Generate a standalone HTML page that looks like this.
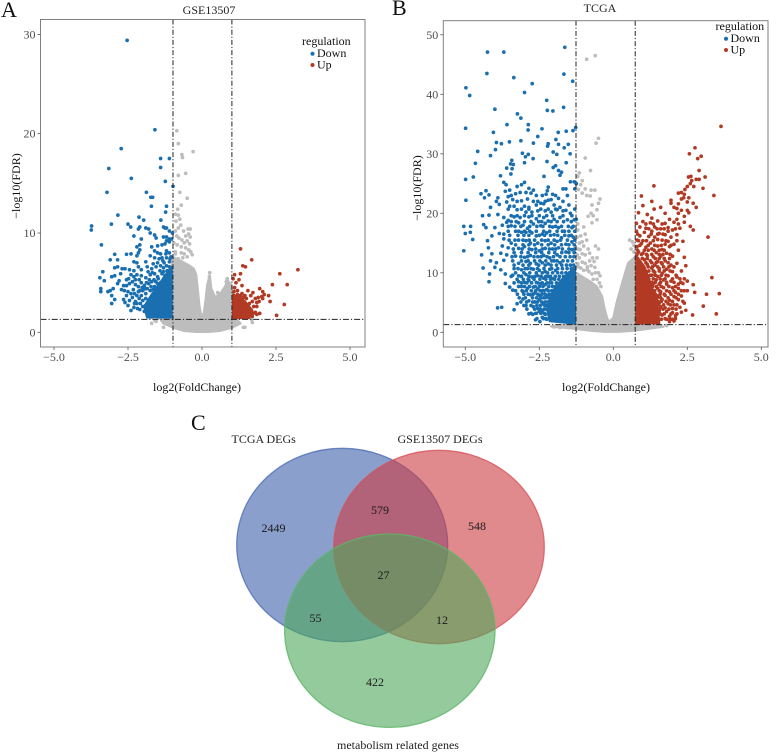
<!DOCTYPE html>
<html lang="en">
<head>
<meta charset="utf-8">
<title>Volcano plots and Venn diagram</title>
<style>
html,body{margin:0;padding:0;background:#fff;}
svg{display:block;font-family:"Liberation Serif",serif;filter:blur(0.3px);}
</style>
</head>
<body>
<svg id="figure" width="777" height="752" viewBox="0 0 777 752" xmlns="http://www.w3.org/2000/svg">
<g id="panel-a"></g>
<g id="panel-b"></g>
<g font-size="22" fill="#111">
<text x="1" y="17">A</text>
<text x="392" y="15">B</text>
<text x="191" y="430">C</text>
</g>
<g>
<ellipse cx="342.2" cy="545" rx="105.5" ry="96.7" fill="#3c5faa" fill-opacity="0.6" stroke="#4a69b4" stroke-opacity="0.75" stroke-width="1.3"/>
<ellipse cx="439" cy="547" rx="105.3" ry="96.7" fill="#cd3c41" fill-opacity="0.6" stroke="#d5505a" stroke-opacity="0.75" stroke-width="1.3"/>
<ellipse cx="389.8" cy="630.7" rx="105.2" ry="96.7" fill="#4fa85a" fill-opacity="0.6" stroke="#5cb568" stroke-opacity="0.8" stroke-width="1.3"/>
<g font-size="12" fill="#222">
<text x="231.5" y="443">TCGA DEGs</text>
<text x="397.5" y="443">GSE13507 DEGs</text>
<text x="337" y="749">metabolism related genes</text>
</g>
<g font-size="12" fill="#1a1a1a" text-anchor="middle">
<text x="273.5" y="532">2449</text>
<text x="380" y="514">579</text>
<text x="477" y="530">548</text>
<text x="383.5" y="579">27</text>
<text x="315.5" y="622">55</text>
<text x="442" y="624">12</text>
<text x="375" y="686">422</text>
</g>
</g>
</svg>
<script>
const xTickLabels = ["\u22125.0","\u22122.5","0.0","2.5","5.0"];
const xTickValues = [-5,-2.5,0,2.5,5];
const yTicksA = [0,10,20,30];
const yTicksB = [0,10,20,30,40,50];
const thresholdsA = {left:-0.98,right:1.01,fdr:1.3};
const thresholdsB = {left:-1.26,right:0.74,fdr:1.3};

/* Dense clouds, read as outlines of the solid masses */
const grayMassA = [[-1.4,1.3],[-1.1,1.4],[-1,7.6],[-0.85,7.4],[-0.6,7],[-0.42,6.7],[-0.28,6.4],[-0.2,5.8],[-0.15,4.4],[-0.09,2.7],[-0.02,1.5],[0.06,1.9],[0.12,3.2],[0.18,4.8],[0.26,5.7],[0.31,4.4],[0.45,3.5],[0.62,3.9],[0.78,4.6],[0.87,5.2],[1,4.7],[1.05,1.6],[1.3,0.9],[1.0,0.45],[0.6,0.15],[0.2,0.05],[-0.2,0.05],[-0.6,0.15],[-1,0.5],[-1.3,0.9]];
const downMassA = [[-1.85,1.5],[-1.95,2.6],[-1.7,3.8],[-1.45,4.8],[-1.25,5.7],[-1.03,6.6],[-1.03,1.5]];
const upMassA = [[1.05,1.45],[1.6,1.45],[1.7,2.2],[1.45,3.1],[1.25,3.5],[1.05,3.8]];
const grayMassB = [[-2.1,1.0],[-1.26,1.3],[-1.26,10],[-1,9.2],[-0.8,8.6],[-0.56,7.7],[-0.38,6],[-0.3,4],[-0.2,2.2],[-0.13,1.8],[0,2.4],[0.11,4.9],[0.33,8.8],[0.5,11.6],[0.76,12.8],[0.76,1.3],[1.7,0.95],[1.1,0.55],[0.7,0.3],[0.2,0.1],[-0.3,0.1],[-0.8,0.3],[-1.3,0.6]];
const downMassB = [[-2.15,1.9],[-2.22,3.5],[-2.15,5.5],[-2,7.2],[-1.7,9],[-1.45,10.2],[-1.3,11],[-1.3,1.5]];
const upMassB = [[0.78,1.5],[1.55,1.5],[1.5,4],[1.38,6.5],[1.2,9],[1.05,11],[0.78,12.8]];

/* Individually visible points: [log2FC, -log10 FDR] */
const grayPointsA = [[-0.85,20.3],[-0.8,19],[-0.68,17.9],[-0.3,18.2],[-0.66,17.6],[-0.8,15.8],[-0.55,16],[-0.75,14.1],[-0.5,13.5],[-0.7,12.8],[-0.82,12.4],[-0.9,11.9],[-0.88,11.2],[-0.8,11.8],[-0.75,11.4],[-0.72,10.8],[-0.8,10.5],[-0.9,10.2],[-0.62,10.2],[-0.47,10.4],[-0.4,10.4],[-0.45,9.9],[-0.55,9.7],[-0.4,9.6],[-0.78,9.5],[-0.68,9.3],[-0.5,9.2],[-0.42,8.9],[-0.84,8.8],[-0.7,8.6],[-0.55,8.5],[-0.45,8.3],[-0.38,8.1],[-0.9,8.1],[-0.7,8],[-0.6,7.9],[-0.33,7.8],[-0.8,7.4],[0.26,6],[0.25,5.6],[0.85,5.4],[0.82,5.1],[-1.35,1.2],[-1.55,1.1],[-1.7,0.9],[-1.6,1.25],[1.4,0.5],[1.45,0.5],[1.2,1],[1.7,1],[-1.3,0.5],[1.68,1.3],[0.53,4],[0.68,4],[-0.95,9],[-0.85,9.7],[-0.6,9],[-0.9,7.9],[-0.5,7.6],[-0.65,7.5]];
const downPointsA = [[-2.53,29.4],[-1.59,20.4],[-2.73,18.5],[-3.15,16.5],[-2.39,15.5],[-3.21,14.1],[-1.88,14.1],[-1.73,13.6],[-1.67,13.6],[-1.4,17.5],[-1.1,17.5],[-1.4,16.6],[-1.24,15.2],[-0.98,14.7],[-1.71,12.7],[-1.2,12.7],[-1.23,12.1],[-2.84,11.8],[-3.73,10.7],[-3.74,10.3],[-3.06,10.9],[-2.5,10.9],[-2.41,10.6],[-2.13,11.6],[-1.97,11.3],[-1.39,11.3],[-1.3,10.6],[-1.25,10.5],[-1.2,10.5],[-1.1,10.2],[-1.0,10],[-1.9,10.5],[-1.8,10.4],[-2.15,10.4],[-2.1,10.6],[-1.75,10],[-1.6,9.8],[-1.55,9.5],[-1.3,9.6],[-1.2,9.6],[-1.1,9.4],[-1.03,9.4],[-2.3,9.7],[-2.05,9.4],[-1.2,9.2],[-1.1,9.1],[-1.25,8.9],[-1.35,8.8],[-1.5,8.7],[-1.7,8.6],[-2.1,8.8],[-2.2,8.6],[-3.4,8.8],[-2.1,8.3],[-2.15,8],[-1.6,8.2],[-1.5,8],[-1.4,7.9],[-1.2,8.2],[-1.1,8],[-2.4,7.9],[-2.55,7.85],[-2.95,7.85],[-2.2,7.7],[-1.75,7.7],[-1.6,7.5],[-1.35,7.5],[-1.2,7.5],[-1.05,7.6],[-3.1,7.3],[-2.85,7.3],[-2.3,7.1],[-2.2,7],[-1.9,7.1],[-1.5,7],[-1.1,7.1],[-3.35,6.1],[-2.95,6.5],[-2.85,6.6],[-2.7,6.4],[-2.6,6.4],[-2.45,6.3],[-2.15,6.6],[-2.05,6.3],[-1.85,6.6],[-1.7,6.4],[-1.55,6.6],[-1.4,6.7],[-1.3,6.5],[-1.2,6.7],[-1.1,6.6],[-3.45,5.5],[-3.3,5.2],[-3.05,5.6],[-2.95,5.7],[-2.75,5.9],[-2.55,5.3],[-2.4,5.8],[-2.3,5.6],[-2.2,5.8],[-2.05,5.7],[-1.9,5.5],[-1.75,5.8],[-1.6,5.9],[-1.5,5.6],[-1.35,5.9],[-1.25,5.7],[-3.42,4.4],[-3.42,4.1],[-3.18,4.1],[-3.1,4.2],[-3,4.4],[-2.85,4.9],[-2.8,5.2],[-2.65,4.7],[-2.55,4.7],[-2.45,4.9],[-2.35,5.1],[-2.25,4.8],[-2.15,4.6],[-2.05,5],[-1.95,4.7],[-1.8,4.9],[-1.7,5.1],[-1.6,4.6],[-1.5,4.9],[-1.4,5],[-3.05,3.7],[-2.95,3.3],[-3.05,2.9],[-2.65,3.3],[-2.55,3.7],[-2.5,4.1],[-2.4,3.9],[-2.35,3.5],[-2.25,3.1],[-2.2,3.7],[-2.15,4.1],[-2.05,3.7],[-2,4.2],[-1.9,3.9],[-1.85,4.4],[-1.75,4.2],[-1.65,4.3],[-1.55,4.1],[-2.6,3],[-2.5,2.7],[-2.4,2.2],[-2.3,2.5],[-2.2,2.9],[-2.1,2.3],[-2,2.6],[-2,3.2],[-1.9,3.4],[-1.95,2.1],[-1.8,2.3],[-1.75,3],[-1.7,3.5],[-2.45,3.2],[-2.32,4.3],[-2.28,3.9],[-2.12,3.4],[-2.08,2.9],[-2.02,4.5],[-1.92,4.4],[-1.88,5],[-1.78,5.3],[-1.72,4.6],[-1.62,5.3],[-1.56,5.1],[-1.48,5.4],[-1.42,6.2],[-1.3,6.1],[-1.28,7],[-1.18,6.2],[-1.12,5.9],[-1.08,7.4],[-1.22,7.9],[-1.32,7.2],[-1.45,7.4],[-1.65,6.9],[-2.1,4.2],[-2.48,5.4],[-2.62,4.2],[-2.72,4.3],[-2.18,2.4],[-2.28,2.9],[-1.85,1.9],[-1.9,2.7],[-1.68,6],[-1.82,6.1],[-2.12,5.3],[-2.25,5.3],[-2.3,6.2]];
const upPointsA = [[1.3,8.4],[1.68,7.3],[1.38,6.7],[1.47,6.6],[3.24,6.3],[2.63,5.9],[1.1,5.8],[1.3,5.9],[1.05,5.4],[1.25,5.3],[1.15,5],[1.35,4.7],[1.1,4.5],[1.2,4.2],[2.38,4.8],[2.88,4.8],[1.95,4.4],[2.05,4.1],[1.55,4.2],[1.72,4],[1.65,3.7],[2.1,3.8],[2.25,3.7],[2.02,3.6],[1.9,3.5],[2.05,3.4],[1.8,3.4],[1.93,3.1],[1.85,3],[2.3,3.1],[2.78,2.8],[1.7,3.1],[1.5,3.4],[1.6,2.9],[1.4,3.5],[1.3,3.7],[1.55,2.7],[1.75,2.6],[1.85,2.6],[1.65,2.3],[1.73,1.9],[1.95,1.9],[1.85,1.8],[2.52,1.7],[1.7,1.6],[1.8,2],[1.08,4.1],[1.2,3.8],[1.35,3.9],[1.45,3.7]];

const grayPointsB = [[-0.9,45.9],[-0.61,46.5],[-0.5,32.6],[-0.58,31.8],[-0.95,29.3],[-0.77,27.2],[-1.15,26.8],[-1.2,26.2],[-1.05,25.5],[-1.1,24.8],[-0.95,24.1],[-0.75,23.9],[-0.62,23.9],[-1.18,24],[-1.05,23.4],[-0.9,23],[-0.78,22.9],[-0.45,22.4],[-0.5,21.7],[-0.72,21.4],[-0.55,20.6],[-0.75,20],[-0.68,19.6],[-0.85,19.5],[-0.55,18.9],[-0.72,18.4],[-1.2,18.2],[-1.0,17.7],[-1.2,17.2],[-1.1,16.2],[-0.95,16.5],[-1.22,16],[-1.15,15],[-1.05,15.2],[-0.9,15.5],[-0.6,14.5],[-0.5,14],[-0.85,14],[-1.2,14],[-1.05,13.2],[-0.95,13],[-0.8,13.3],[-0.7,12.5],[-0.65,11.9],[-0.55,12.5],[-0.8,12],[-1.15,12.5],[-0.95,11.6],[-0.75,11.2],[-0.62,10.9],[-0.5,10],[-0.45,9.5],[-0.6,10],[0.55,15.5],[0.65,15.2],[0.7,14.6],[0.6,14],[0.7,13.5],[-2,0.9],[-1.8,0.8],[-1.5,1],[1.3,1.1],[1.6,1],[1.8,1.15],[1.05,1.0],[-1.2,11.5],[-1.1,10.8],[-1.0,10.4],[-0.88,10.5],[-0.72,9.8],[-0.55,8.9],[-0.47,8.3],[-0.42,7.7],[-1.22,13],[-1.12,13.9],[-1.0,14.5],[-1.18,11],[-1.05,11.8],[-0.88,11],[-0.82,10.2],[-0.68,8.9]];
const downPointsB = [[-4.25,47.1],[-3.7,47.1],[-1.64,47.9],[-4.27,43.5],[-1.67,43.4],[-3.36,42.8],[-2.74,41.8],[-1.37,42.2],[-4.98,41.1],[-4.85,39.8],[-3,40.3],[-2.25,39],[-4,37.5],[-2.23,37.3],[-2.04,37.2],[-1.68,37.8],[-3.24,36.7],[-3.12,36],[-3.59,34.9],[-2.87,34.9],[-4.99,34.3],[-2.41,34.2],[-2.88,34],[-4.05,33.6],[-1.86,33.6],[-1.59,33.8],[-1.36,33.9],[-1.27,34.4],[-2.55,32.9],[-1.94,32.4],[-3.12,32.2],[-3.95,31.9],[-3.78,31.7],[-3.51,32],[-2.7,31.8],[-2.2,31.7],[-2.22,31.3],[-1.85,31.6],[-1.52,31.6],[-1.66,31],[-3.98,30.7],[-4.58,30.4],[-2.03,30.3],[-1.91,29.9],[-3.07,30.1],[-2.87,29.9],[-1.46,30],[-4.15,29.7],[-2.97,29.5],[-2.71,29.2],[-3.43,28.9],[-3.47,28.3],[-3.38,28.2],[-4.66,28.4],[-2.24,28.7],[-1.59,28.5],[-3,28.5],[-1.95,28],[-2.03,27.7],[-3.6,27.6],[-3.42,27.5],[-1.85,27.2],[-1.75,26.9],[-1.8,26.4],[-3.46,26.6],[-4.73,26.1],[-3.81,26.3],[-2.34,26.2],[-4.99,25.7],[-1.45,25.3],[-1.32,25.3],[-1.25,25],[-3.7,25.2],[-3.62,24.8],[-3.25,24.5],[-3.1,24.8],[-3,25.2],[-2.85,24.2],[-2.7,23.9],[-2.2,24.4],[-2.23,23.8],[-1.7,24.1],[-1.6,24.1],[-1.3,24.1],[-3.5,23.9],[-3.65,23.7],[-4.3,23.8],[-4.47,23.3],[-4.2,23.1],[-3.9,22.6],[-3.55,22.8],[-3.3,23.3],[-3.15,23.5],[-2.95,23.5],[-2.78,23.4],[-2.6,23],[-2.27,23.2],[-2.05,23.2],[-4.98,22.2],[-4.35,22.6],[-3.95,22],[-3.6,21.9],[-3.4,22.3],[-3.1,22.1],[-2.9,22.4],[-2.45,21.7],[-2.2,22.2],[-2.1,22.3],[-1.85,22.5],[-4.15,21],[-3.85,21.5],[-3.5,21.2],[-3.35,21.2],[-3,21.2],[-2.85,21],[-2.6,21.4],[-2.35,21.6],[-2,21.4],[-1.8,21],[-1.5,21.4],[-3.25,20.6],[-2.95,20.2],[-2.75,20.2],[-2.55,20.4],[-2.3,20.4],[-2.1,20.2],[-1.9,20.6],[-1.7,20.4],[-1.45,20],[-1.6,20.5],[-4.42,19.6],[-4.2,19.7],[-3.9,19.8],[-3.7,19.3],[-3.55,18.8],[-3.35,19.4],[-3.15,19.3],[-2.85,19.4],[-2.6,19.1],[-2.35,19.3],[-2.2,18.7],[-2,19],[-1.8,19.3],[-1.55,18.9],[-1.32,18.9],[-1.25,19],[-5.05,17.8],[-4.82,17.8],[-4.38,18.1],[-4.3,17.6],[-4,17.6],[-3.75,18],[-3.6,18.5],[-3.45,17.9],[-3.2,18.4],[-3.05,18],[-2.9,17.5],[-2.7,18.2],[-2.45,17.9],[-2.3,18.3],[-2.05,17.7],[-1.85,17.6],[-1.65,17],[-1.4,17.6],[-5.0,16.6],[-4.83,16.8],[-4.1,16.2],[-3.85,16.6],[-3.7,16.5],[-3.3,17],[-3.1,16.8],[-2.95,16.8],[-2.75,16.7],[-2.6,16.2],[-2.4,16.5],[-2.25,16.7],[-2,16.4],[-1.75,15.9],[-1.5,16.2],[-1.35,16],[-4.75,15.6],[-4.25,15.4],[-3.7,15.7],[-3.45,15],[-3.2,15.5],[-2.95,15.4],[-2.8,15],[-2.55,15],[-2.3,15.4],[-2.1,15],[-1.9,15.3],[-1.6,14.8],[-1.4,15.2],[-5.05,13.7],[-4.22,14.2],[-3.75,14.5],[-3.55,14.2],[-3.2,14.1],[-3,14.4],[-2.75,13.9],[-2.5,13.7],[-2.3,14.1],[-2.05,14],[-1.85,14.2],[-1.6,13.5],[-1.4,13.9],[-4.45,13],[-4.1,13.2],[-3.8,13.3],[-3.6,13],[-3.3,12.8],[-3,12.6],[-2.8,12.9],[-2.55,12.7],[-2.35,12.9],[-2.15,12.5],[-1.9,13],[-4.15,12],[-3.95,11.7],[-3.7,12.1],[-3.2,11.6],[-2.95,11.9],[-2.8,11.6],[-2.6,11.5],[-2.4,11.7],[-2.2,11.5],[-2,12],[-1.8,11.7],[-4.4,10.8],[-4,10.9],[-3.8,10.5],[-3.35,10.7],[-3.1,10.5],[-2.9,10.7],[-2.7,10.6],[-2.5,10.4],[-2.3,10.2],[-2.15,10.6],[-1.95,10.4],[-4.18,9.8],[-3.65,9.8],[-3.4,9.6],[-3.2,9.5],[-2.95,9.7],[-2.75,9.3],[-2.55,9.5],[-2.35,9.1],[-2.2,9.4],[-2.05,9],[-3.2,8.5],[-3,8.4],[-2.85,8.7],[-2.6,8.4],[-2.45,8.2],[-2.3,8],[-2.15,8.3],[-4.2,8.5],[-3.65,8.2],[-3.5,7.6],[-3.1,7.7],[-2.9,7.4],[-2.7,7.6],[-2.55,7.3],[-2.4,7],[-2.25,7.2],[-3.4,7.1],[-3.05,6.8],[-2.8,6.3],[-2.65,6.6],[-2.5,6.2],[-2.35,5.8],[-2.25,6.2],[-3.05,5.6],[-2.85,5.3],[-2.65,5.1],[-2.5,5.5],[-2.35,4.7],[-3.25,4.8],[-2.95,4.5],[-2.7,4.3],[-2.55,4],[-2.4,3.6],[-3.91,4.1],[-3.77,4.2],[-3.35,3.8],[-2.85,3.1],[-2.72,3],[-2.6,3.2],[-2.5,3.5],[-2.3,3],[-2.63,2.1],[-2.48,1.8],[-2.25,2.2],[-2.4,2.5]];

/* Mid-density bands, rows of [y, x, x, x, ...] */
const downRowsB = [
[2.3,-2.58,-2.36,-2.28],[3.2,-2.78,-2.62,-2.45,-2.33],[3.9,-2.92,-2.66,-2.47,-2.34,-2.27],[4.5,-3.02,-2.78,-2.58,-2.46,-2.31,-2.24],[5.1,-3.12,-2.93,-2.72,-2.56,-2.42,-2.3,-2.22],[5.8,-3.18,-2.97,-2.73,-2.59,-2.44,-2.29,-2.18],[6.4,-3.24,-3.02,-2.88,-2.71,-2.55,-2.41,-2.3,-2.16,-2.05],[7,-3.3,-3.08,-2.94,-2.77,-2.62,-2.47,-2.34,-2.2,-2.08],[7.7,-3.2,-3,-2.83,-2.64,-2.5,-2.38,-2.18,-2.05,-1.95],[8.3,-3.35,-3.1,-2.92,-2.76,-2.55,-2.4,-2.24,-2.08,-1.92,-1.8],[8.9,-3.25,-3.04,-2.88,-2.68,-2.48,-2.28,-2.12,-1.98,-1.84,-1.7],[9.4,-3.45,-3.1,-2.85,-2.65,-2.44,-2.28,-2.12,-1.96,-1.82,-1.68],[10,-3.3,-3.02,-2.82,-2.6,-2.4,-2.22,-2.05,-1.88,-1.74,-1.6,-1.48],[10.7,-3.22,-2.98,-2.78,-2.56,-2.34,-2.08,-1.88,-1.72,-1.56,-1.42],[11.3,-3.35,-3.05,-2.85,-2.52,-2.3,-2.1,-1.92,-1.74,-1.58,-1.45,-1.34],[12,-3.4,-3.1,-2.88,-2.66,-2.48,-2.28,-2.08,-1.9,-1.7,-1.54,-1.38],[12.7,-3.42,-3.12,-2.9,-2.68,-2.44,-2.24,-2.02,-1.8,-1.62,-1.46,-1.33],[13.4,-3.35,-3.1,-2.88,-2.62,-2.42,-2.18,-1.98,-1.74,-1.5,-1.32],[14,-3.38,-3.08,-2.84,-2.62,-2.4,-2.16,-1.95,-1.72,-1.5,-1.3],[14.7,-3.3,-3.05,-2.85,-2.66,-2.42,-2.2,-1.98,-1.75,-1.5,-1.32],[15.5,-3.52,-3.32,-3.05,-2.84,-2.66,-2.42,-2.2,-2,-1.78,-1.55,-1.3],[16.3,-3.5,-3.22,-3.02,-2.85,-2.5,-2.32,-2.12,-1.88,-1.64,-1.42],[17,-3.55,-3.2,-3,-2.82,-2.6,-2.35,-2.15,-1.9,-1.72,-1.5,-1.3],[17.8,-3.55,-3.32,-3.12,-2.82,-2.58,-2.38,-2.15,-1.95,-1.75,-1.52,-1.35],[18.6,-3.45,-3.28,-3,-2.78,-2.52,-2.42,-2.1,-1.9,-1.68,-1.42],[19.6,-3.45,-3.25,-3,-2.75,-2.5,-2.25,-2.05,-1.7,-1.4],[20.7,-3.55,-3.1,-2.85,-2.45,-2.2,-1.95,-1.3],[22,-3.25,-2.7,-2.55,-2.3,-1.7],[23,-3.45,-2.4,-1.95,-1.55]
];
const upRowsB = [
[2.2,1.62,1.8,1.92],[3.1,1.58,1.72,1.95,2.15],[3.9,1.55,1.68,1.88,2.12],[4.6,1.52,1.7,1.93,2.15],[5.2,1.5,1.62,1.78,2.0,2.35],[5.8,1.48,1.6,1.85,2.12],[6.4,1.42,1.58,1.72,1.95,2.2],[7,1.4,1.55,1.8,2.05,2.3],[7.7,1.32,1.45,1.62,1.88,2.1],[8.4,1.3,1.42,1.6,1.8,2.05,2.28],[9,1.2,1.35,1.58,1.75,2,2.25],[9.6,1.12,1.3,1.42,1.62,1.78,2.12],[10.3,1.02,1.2,1.35,1.55,1.72,1.92],[11,1.0,1.18,1.32,1.5,1.7,1.88,2.05],[11.7,0.92,1.1,1.3,1.45,1.62,1.85],[12.4,0.82,0.98,1.15,1.42,1.55,1.72,1.9],[13.1,0.8,0.95,1.12,1.3,1.55,1.68,1.92],[13.8,0.82,1.05,1.18,1.38,1.55,1.72],[14.6,0.9,1.18,1.4,1.62,1.95],[15.4,0.85,1.12,1.35,1.78,2.15],[16.5,0.82,1.28,1.5,1.68],[17.4,1.2,1.48,1.72,2.1],[18.2,1.1,1.35,1.65,2.2]
];
const upPointsB = [[3.64,34.6],[2.76,31],[2.57,30],[2.97,29.6],[2.85,29.2],[2.9,27.2],[3.1,26.1],[2.54,26.1],[2.62,26.2],[2.65,25.5],[2.8,25.7],[2.9,25.7],[2.6,25],[2.5,24.5],[2.72,24.5],[1.37,24.6],[3.03,24.2],[2.42,24],[2.3,23.5],[2.2,23.4],[3.4,23],[2.4,23.2],[0.95,22.9],[2.55,22.6],[2.3,22.4],[2.38,22.6],[1.95,22.2],[1.3,22],[2.7,21.7],[2.8,21],[1.95,21.7],[2.5,21.9],[2.2,21.6],[1.0,21.3],[1.6,21],[1.38,20.7],[2.05,21],[2.15,20.8],[2.3,20.5],[2.5,20.5],[2.55,20.1],[0.85,20.1],[1.15,19.8],[1.75,20],[2.2,20],[1.3,19.2],[2.4,19.5],[1.9,19],[2.15,19],[1.0,18.6],[1.5,18.7],[2.05,18.5],[1.25,18.4],[1.75,18.3],[0.78,18.3],[2.4,18.5],[2.6,17.8],[0.9,17.7],[1.1,17.5],[1.4,17.7],[1.6,17.4],[1.85,17.6],[2.25,17.5],[2.7,17.2],[1.3,17],[1.85,17],[2.0,17.2],[0.78,17],[1.05,16.8],[1.55,16.6],[1.75,16.4],[2.15,16.4],[0.9,16.2],[1.2,16.1],[1.4,16],[1.95,16],[3.2,16],[0.8,15.5],[1.0,15.4],[1.5,15.6],[1.65,15.5],[1.85,15.3],[2.35,15.3],[0.95,14.9],[1.25,15],[1.75,14.8],[2.05,14.8],[0.8,14.4],[1.1,14.3],[1.5,14.5],[1.9,14.4],[1.3,14],[1.65,13.9],[2.2,13.8],[0.85,13.5],[1.0,13.3],[1.45,13.4],[1.8,13.3],[1.15,12.9],[1.35,12.7],[1.6,12.8],[2,12.8],[2.4,12.6],[1.05,12.2],[1.25,12],[1.5,11.9],[1.75,12],[1.15,11.4],[1.4,11.3],[1.65,11.5],[1.95,11.3],[2.15,11.6],[2.45,11.2],[1.3,10.8],[1.55,10.7],[1.8,10.6],[1.1,10.2],[1.4,10.1],[1.65,9.9],[2,10.2],[2.3,10.3],[1.25,9.6],[1.5,9.4],[1.85,9.5],[3.33,9.2],[2.15,9.3],[2.4,9],[1.45,8.8],[1.7,8.8],[1.95,8.6],[2.5,8.6],[1.35,8.2],[1.55,8.1],[1.8,8.1],[2.2,8.1],[2.35,8.2],[2.7,8],[1.5,7.4],[1.7,7.5],[2,7.5],[2.2,7.4],[2.4,7.0],[2.5,7.0],[1.6,6.8],[1.9,6.8],[2.1,6.7],[2.75,6.7],[3.15,6.4],[3.58,6.5],[1.5,6.1],[1.75,6.2],[2.05,6],[2.3,6.1],[1.65,5.5],[1.9,5.4],[2.2,5.5],[1.55,4.9],[1.85,4.8],[2.05,4.6],[2.4,4.9],[3.04,4.4],[1.6,4.3],[1.75,4.1],[2.0,4],[2.25,4.2],[1.55,3.6],[1.8,3.5],[2,3.3],[2.3,3.4],[2.45,3.7],[3.48,3.1],[2.68,2.9],[1.65,2.9],[1.9,2.7],[2.1,2.8],[1.75,2.3],[2,2.2],[2.1,2.3],[2.05,1.9],[1.9,1.8]];

const NS = "http://www.w3.org/2000/svg";

function makeEl(parent, tag, attrs) {
  const el = document.createElementNS(NS, tag);
  for (const k in attrs) el.setAttribute(k, attrs[k]);
  parent.appendChild(el);
  return el;
}

function expandRows(rows) {
  const out = [];
  rows.forEach(r => r.slice(1).forEach(x => out.push([x, r[0]])));
  return out;
}

function drawVolcano(root, cfg) {
  const xScale = v => cfg.x0 + v * cfg.kx;
  const yScale = v => cfg.y0 - v * cfg.ky;

  const frame = makeEl(root, "rect", {x:cfg.left,y:cfg.top,width:cfg.right-cfg.left,height:cfg.bottom-cfg.top,fill:"#fff",stroke:"none"});
  
  

  cfg.masses.forEach(m => {
    const d = m.pts.map((p,i) => (i ? "L" : "M") + xScale(p[0]).toFixed(1) + " " + yScale(p[1]).toFixed(1)).join("") + "Z";
    const mass = makeEl(root, "path", {d:d,fill:m.color,stroke:m.color,"stroke-width":2.4,"stroke-linejoin":"round"});
    
    
  });

  cfg.series.forEach(s => {
    s.pts.forEach(p => {
      const c = makeEl(root, "circle", {cx:xScale(p[0]).toFixed(1),cy:yScale(p[1]).toFixed(1),r:1.85,fill:s.color});
      
      
    });
  });

  const dash = "5 2 1.2 2";
  const lineL = makeEl(root, "line", {x1:xScale(cfg.th.left),x2:xScale(cfg.th.left),y1:cfg.top,y2:cfg.bottom,stroke:"#222","stroke-width":1,"stroke-dasharray":dash});
  
  
  const lineR = makeEl(root, "line", {x1:xScale(cfg.th.right),x2:xScale(cfg.th.right),y1:cfg.top,y2:cfg.bottom,stroke:"#222","stroke-width":1,"stroke-dasharray":dash});
  
  
  const lineH = makeEl(root, "line", {x1:cfg.left,x2:cfg.right,y1:yScale(cfg.th.fdr),y2:yScale(cfg.th.fdr),stroke:"#222","stroke-width":1,"stroke-dasharray":"6 2 1.2 2"});
  
  

  const border = makeEl(root, "rect", {x:cfg.left,y:cfg.top,width:cfg.right-cfg.left,height:cfg.bottom-cfg.top,fill:"none",stroke:"#808080","stroke-width":1});
  
  

  xTickValues.forEach((v,i) => {
    const t = makeEl(root, "line", {x1:xScale(v),x2:xScale(v),y1:cfg.bottom,y2:cfg.bottom+3,stroke:"#555","stroke-width":0.8});
    
    
    const l = makeEl(root, "text", {x:xScale(v),y:cfg.bottom+14,"text-anchor":"middle","font-size":12,fill:"#4d4d4d"});
    
    
    l.textContent = xTickLabels[i];
  });
  cfg.yTicks.forEach(v => {
    const t = makeEl(root, "line", {x1:cfg.left-3,x2:cfg.left,y1:yScale(v),y2:yScale(v),stroke:"#555","stroke-width":0.8});
    
    
    const l = makeEl(root, "text", {x:cfg.left-5,y:yScale(v)+4,"text-anchor":"end","font-size":12,fill:"#4d4d4d"});
    
    
    l.textContent = String(v);
  });

  const title = makeEl(root, "text", {x:cfg.titleX,y:cfg.titleY,"text-anchor":"middle","font-size":12,fill:"#222"});
  
  
  title.textContent = cfg.title;

  const xt = makeEl(root, "text", {x:cfg.xTitleX,y:391,"text-anchor":"middle","font-size":12,fill:"#111"});
  
  
  xt.textContent = "log2(FoldChange)";

  const yt = makeEl(root, "text", {x:0,y:0,"text-anchor":"middle","font-size":12,fill:"#111",transform:"translate(" + cfg.yTitleX + " " + cfg.yTitleY + ") rotate(-90)"});
  
  
  yt.textContent = "\u2212log10(FDR)";

  const lg = makeEl(root, "g", {});
  
  
  const lt = makeEl(lg, "text", {x:cfg.legX,y:cfg.legY,"font-size":12,fill:"#111"});
  
  
  lt.textContent = "regulation";
  const d1 = makeEl(lg, "circle", {cx:cfg.legX+10.5,cy:cfg.legY+8.7,r:2,fill:"#1a6fb0"});
  
  
  const t1 = makeEl(lg, "text", {x:cfg.legX+15,y:cfg.legY+12,"font-size":12,fill:"#111"});
  
  
  t1.textContent = "Down";
  const d2 = makeEl(lg, "circle", {cx:cfg.legX+10.5,cy:cfg.legY+20,r:2,fill:"#b23a24"});
  
  
  const t2 = makeEl(lg, "text", {x:cfg.legX+15,y:cfg.legY+23.5,"font-size":12,fill:"#111"});
  
  
  t2.textContent = "Up";
}

const GRAY = "#bdbdbd", BLUE = "#1a6fb0", RED = "#b23a24";

drawVolcano(document.getElementById("panel-a"), {
  left:40.5,right:365,top:19.5,bottom:347,x0:202,kx:29.6,y0:332.3,ky:9.93,
  th:thresholdsA,yTicks:yTicksA,title:"GSE13507",titleX:209,titleY:14,xTitleX:197,yTitleX:20,yTitleY:186,legX:302,legY:45,
  masses:[{pts:grayMassA,color:GRAY},{pts:downMassA,color:BLUE},{pts:upMassA,color:RED}],
  series:[{pts:grayPointsA,color:GRAY},{pts:downPointsA,color:BLUE},{pts:upPointsA,color:RED}]
});
drawVolcano(document.getElementById("panel-b"), {
  left:443.3,right:768,top:20.7,bottom:347,x0:613.3,kx:29.6,y0:332.3,ky:5.95,
  th:thresholdsB,yTicks:yTicksB,title:"TCGA",titleX:600,titleY:12,xTitleX:606,yTitleX:421,yTitleY:188,legX:715.5,legY:30,
  masses:[{pts:grayMassB,color:GRAY},{pts:downMassB,color:BLUE},{pts:upMassB,color:RED}],
  series:[{pts:grayPointsB,color:GRAY},{pts:downPointsB.concat(expandRows(downRowsB)),color:BLUE},{pts:upPointsB.concat(expandRows(upRowsB)),color:RED}]
});
</script>
</body>
</html>
